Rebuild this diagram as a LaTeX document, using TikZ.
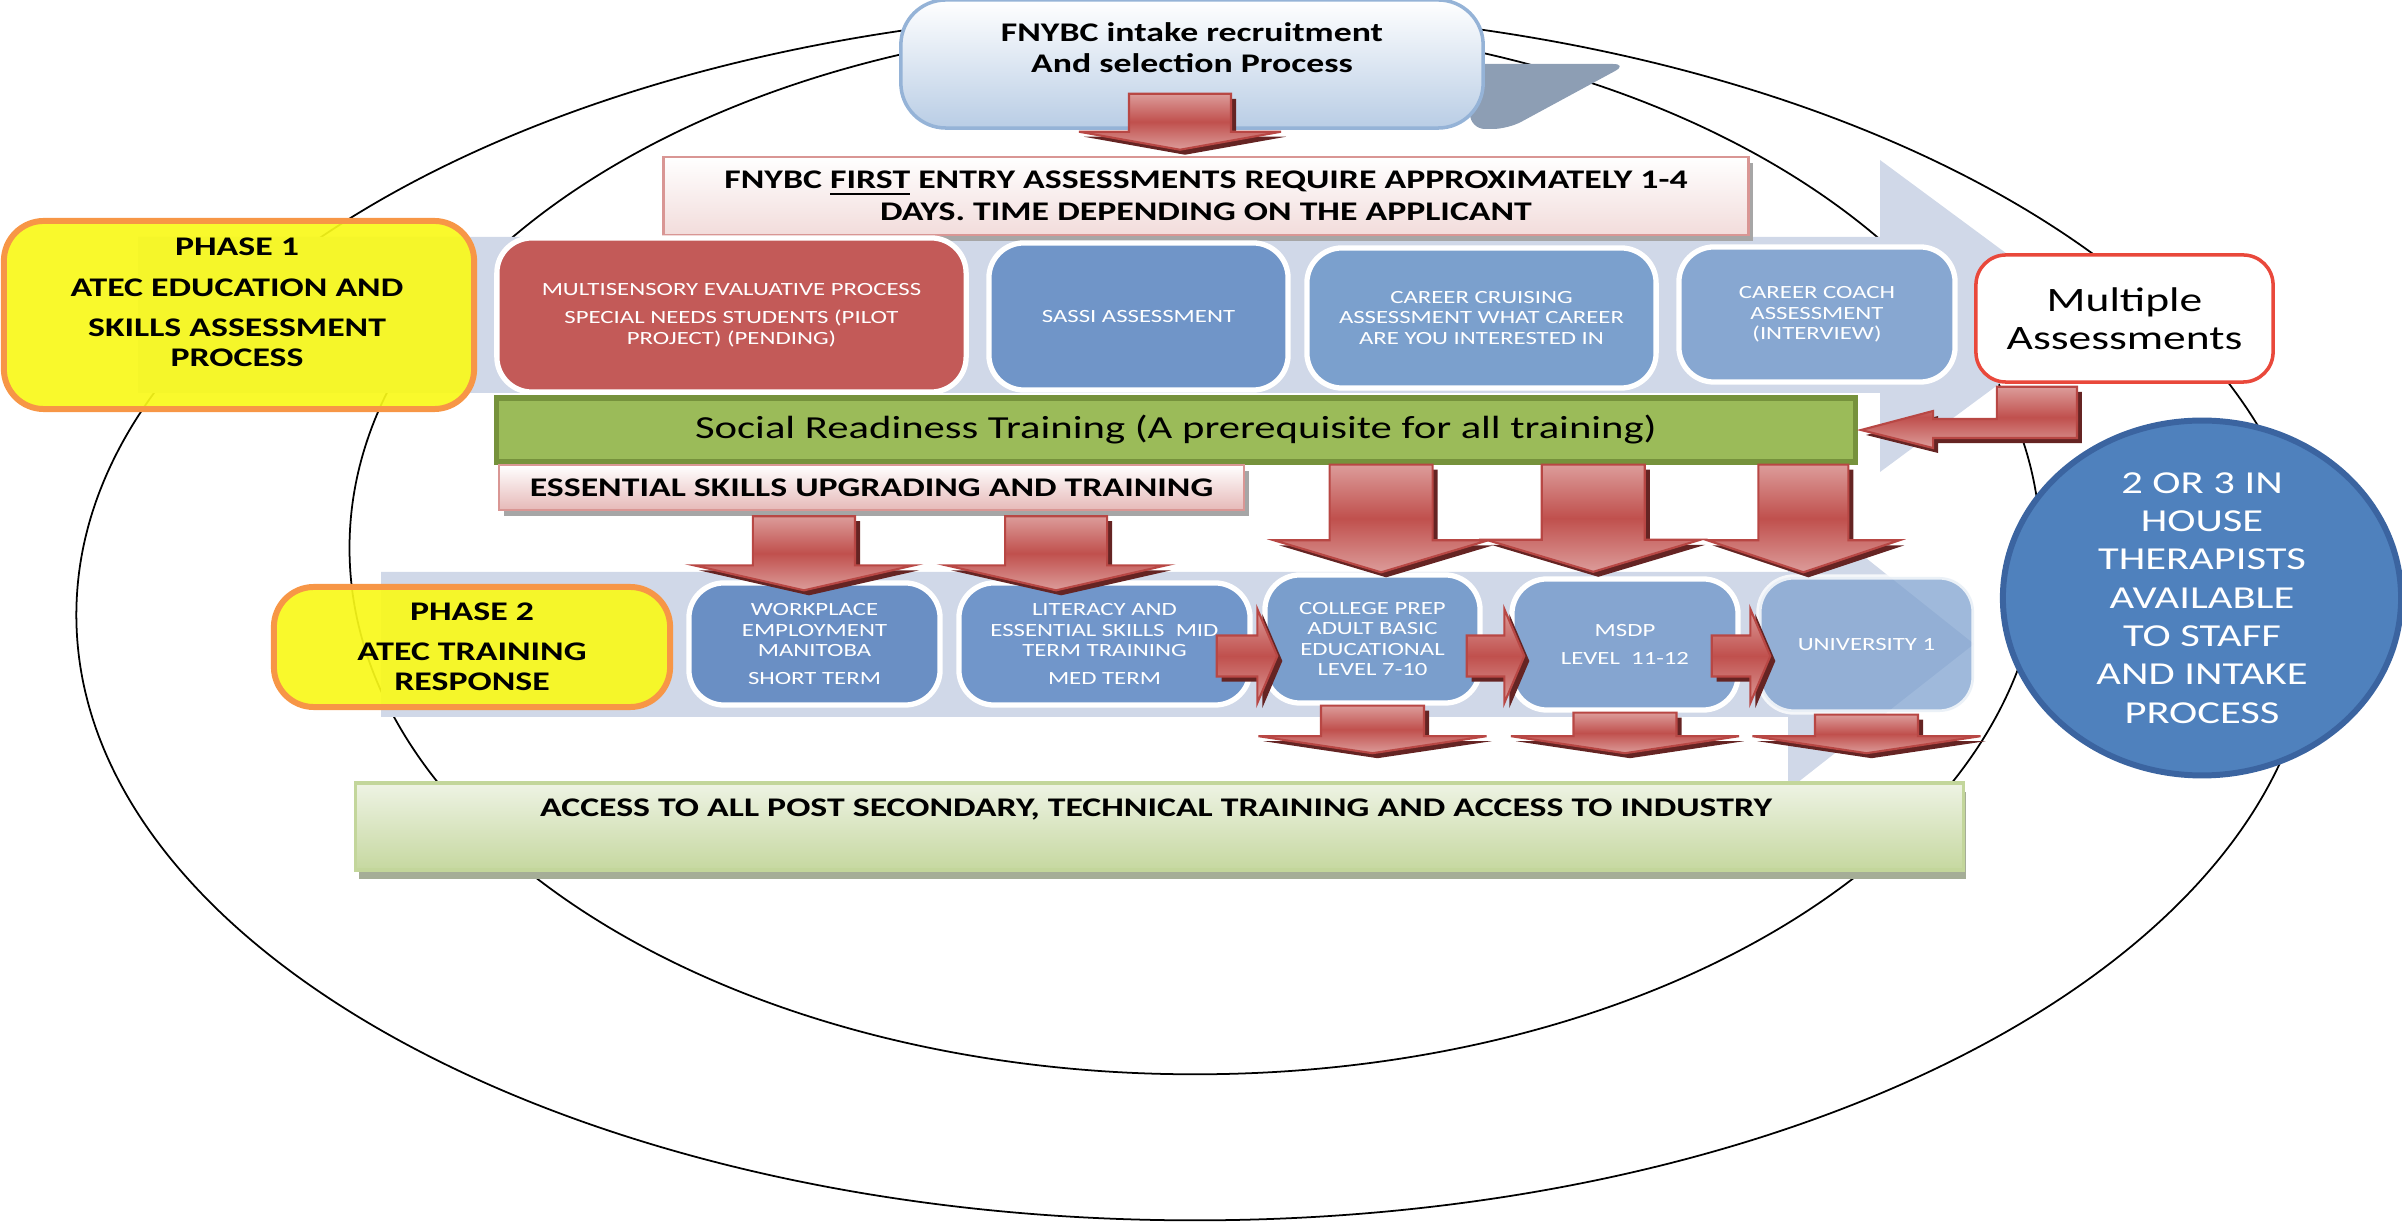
\documentclass[tikz,border=0pt]{standalone}
\usepackage{fontspec}
\setmainfont{Carlito}[FakeStretch=1.33]
\usetikzlibrary{arrows.meta,calc,shadows,shapes.geometric}
\definecolor{bandblue}{HTML}{D0D8E8}
\definecolor{introblue}{HTML}{B9CDE5}
\definecolor{introedge}{HTML}{95B3D7}
\definecolor{introshade}{HTML}{8D9EB4}
\definecolor{bannerpink}{HTML}{D99694}
\definecolor{bannerlow}{HTML}{F2DCDB}
\definecolor{skillslow}{HTML}{E6B9B8}
\definecolor{phaseyellow}{HTML}{F9F91A}
\definecolor{phaseorange}{HTML}{F79646}
\definecolor{redbox}{HTML}{C35A58}
\definecolor{sassiblue}{HTML}{7095C8}
\definecolor{cruiseblue}{HTML}{7BA0CD}
\definecolor{coachblue}{HTML}{87A7D1}
\definecolor{workblue}{HTML}{6A8FC4}
\definecolor{literblue}{HTML}{7196CA}
\definecolor{collegeblue}{HTML}{7A9ECC}
\definecolor{msdpblue}{HTML}{85A5D0}
\definecolor{univblue}{HTML}{7FA2CF}
\definecolor{traingreen}{HTML}{9BBB59}
\definecolor{trainedge}{HTML}{76923C}
\definecolor{noteedge}{HTML}{E9483B}
\definecolor{staffblue}{HTML}{4F81BD}
\definecolor{staffedge}{HTML}{3B64A0}
\definecolor{accesstop}{HTML}{EEF3E4}
\definecolor{accesslow}{HTML}{C6D8A0}
\definecolor{accessedge}{HTML}{C3D69B}
\definecolor{accessshade}{HTML}{A5AD97}
\definecolor{arrowred}{HTML}{C0504D}
\definecolor{arrowpink}{HTML}{DC9C9A}
\definecolor{arrowdark}{HTML}{652423}
\definecolor{arrowedge}{HTML}{B84744}
\tikzset{
    >=Stealth,
    down arrow/.style n args={3}{to path={let \p1=(\tikztostart),\p2=(\tikztotarget) in
        (\x1-#1,\y1) -- (\x1+#1,\y1) -- (\x1+#1,\y2+#3) -- (\x1+#2,\y2+#3) -- (\x1,\y2) -- (\x1-#2,\y2+#3) -- (\x1-#1,\y2+#3) -- cycle}},
    right arrow/.style n args={3}{to path={let \p1=(\tikztostart),\p2=(\tikztotarget) in
        (\x1,\y1-#1) -- (\x2-#3,\y1-#1) -- (\x2-#3,\y1-#2) -- (\x2,\y1) -- (\x2-#3,\y1+#2) -- (\x2-#3,\y1+#1) -- (\x1,\y1+#1) -- cycle}},
    return arrow/.style={to path={let \p1=(\tikztostart),\p2=(\tikztotarget) in
        (\x1-0.8cm,\y1) -- (\x1,\y1) -- (\x1,\y2-0.08cm) -- (\x2+0.72cm,\y2-0.08cm) -- (\x2+0.72cm,\y2-0.18cm) -- (\x2,\y2) -- (\x2+0.72cm,\y2+0.19cm) -- (\x2+0.72cm,\y2+0.11cm) -- (\x1-0.8cm,\y2+0.11cm) -- cycle}},
    flow/.style={
        ring/.append style={draw=black,line width=0.5pt},
        band/.append style={fill=bandblue},
        intro/.append style={draw=introedge,line width=1pt,rounded corners=0.45cm,top color=white,bottom color=introblue,minimum width=5.82cm,minimum height=1.28cm},
        introtext/.append style={align=center,font=\bfseries\fontsize{7.65}{8.8}\selectfont},
        banner/.append style={draw=bannerpink,line width=0.7pt,top color=white,align=center,inner sep=0pt,font=\bfseries\fontsize{7.65}{9.1}\selectfont,drop shadow={shadow xshift=0.05cm,shadow yshift=-0.06cm,fill=black!35,opacity=1}},
        phasebox/.append style={draw=phaseorange,line width=1.7pt,fill=phaseyellow,fill opacity=0.92,text opacity=1,rounded corners=0.4cm,align=center},
        phasetext/.append style={align=center,font=\bfseries\fontsize{7.65}{8.3}\selectfont},
        assess/.append style={draw=white,line width=1.5pt,rounded corners=0.35cm,align=center,text=white,inner sep=0pt,font=\fontsize{5.3}{5.8}\selectfont},
        train/.append style={draw=trainedge,line width=1.5pt,fill=traingreen,minimum width=13.58cm,minimum height=0.64cm,font=\fontsize{9.13}{11}\selectfont},
        note/.append style={draw=noteedge,line width=1pt,fill=white,rounded corners=0.3cm,minimum width=2.97cm,minimum height=1.27cm,align=center,font=\fontsize{9.73}{10.8}\selectfont},
        therapist/.append style={ellipse,draw=staffedge,line width=1.7pt,fill=staffblue,minimum width=3.98cm,minimum height=2.92cm,inner sep=0pt,align=center,text=white,font=\fontsize{9.1}{10.9}\selectfont},
        access/.append style={draw=accessedge,line width=1pt,top color=accesstop,bottom color=accesslow,minimum width=16.07cm,minimum height=0.87cm,drop shadow={shadow xshift=0.03cm,shadow yshift=-0.09cm,fill=accessshade,opacity=1}},
        redarrow/.append style={draw=arrowedge,line width=0.6pt,top color=arrowpink,bottom color=arrowpink,middle color=arrowred,drop shadow={shadow xshift=0.05cm,shadow yshift=-0.05cm,fill=arrowdark,opacity=1}}
    }
}

\begin{document}
\begin{tikzpicture}[flow,x=0.01cm,y=-0.01cm]
    \useasboundingbox (0,0) rectangle (2402,1222);
    \draw[ring] (1195,615) ellipse [x radius=11.18cm,y radius=6.05cm];
    \draw[ring] (1195,548) ellipse [x radius=8.45cm,y radius=5.26cm];
    \fill[band] (138,237) -- (1880,237) -- (1880,160) -- (2091,316) -- (1880,472) -- (1880,393) -- (138,393) -- cycle;
    \fill[band] (381,572) -- (1788,572) -- (1788,496) -- (1974,644) -- (1788,790) -- (1788,717) -- (381,717) -- cycle;
    \fill[introshade,rounded corners=0.15cm] (1470,64) -- (1628,64) -- (1508,129) -- (1470,129) -- cycle;
    \node[intro] (intake) at (1192,64) {};
    \node[introtext] (intaketext) at (1192,48) {FNYBC intake recruitment\\And selection Process};
    \node[banner,bottom color=bannerlow,minimum width=10.84cm,minimum height=0.78cm] (entry) at (1206,196) {FNYBC \underline{FIRST} ENTRY ASSESSMENTS REQUIRE APPROXIMATELY 1-4\\DAYS. TIME DEPENDING ON THE APPLICANT};
    \node[phasebox,minimum width=4.7cm,minimum height=1.88cm] (phaseone) at (239,315) {};
    \node[phasetext] (phaseonetext) at (237,302) {PHASE 1\\[3.3pt]ATEC EDUCATION AND\\[3.3pt]SKILLS ASSESSMENT\\PROCESS};
    \node[assess,fill=redbox,minimum width=4.69cm,minimum height=1.54cm] (multisense) at (731.5,315) {MULTISENSORY EVALUATIVE PROCESS\\[2.3pt]SPECIAL NEEDS STUDENTS (PILOT\\PROJECT) (PENDING)};
    \node[assess,fill=sassiblue,minimum width=2.99cm,minimum height=1.47cm] (sassi) at (1138.5,316.5) {SASSI ASSESSMENT};
    \node[assess,fill=cruiseblue,minimum width=3.49cm,minimum height=1.4cm] (cruise) at (1481.5,318) {CAREER CRUISING\\ASSESSMENT WHAT CAREER\\ARE YOU INTERESTED IN};
    \node[assess,fill=coachblue,minimum width=2.76cm,minimum height=1.35cm] (coach) at (1817,314.5) {CAREER COACH\\ASSESSMENT\\(INTERVIEW)};
    \node[note] (multiple) at (2124.5,318.5) {Multiple\\Assessments};
    \node[train] (social) at (1176,430) {Social Readiness Training (A prerequisite for all training)};
    \node[banner,bottom color=skillslow,minimum width=7.45cm,minimum height=0.45cm] (skills) at (871.5,487.5) {ESSENTIAL SKILLS UPGRADING AND TRAINING};
    \node[phasebox,phasetext,font=\bfseries\fontsize{7.65}{8.5}\selectfont,minimum width=3.96cm,minimum height=1.2cm] (phasetwo) at (472,647) {PHASE 2\\[2.8pt]ATEC TRAINING\\RESPONSE};
    \node[assess,fill=workblue,minimum width=2.51cm,minimum height=1.22cm] (workplace) at (814.5,644) {WORKPLACE\\EMPLOYMENT\\MANITOBA\\[2pt]SHORT TERM};
    \node[assess,fill=literblue,minimum width=2.91cm,minimum height=1.22cm] (literacy) at (1104.5,644) {LITERACY AND\\ESSENTIAL SKILLS\ \ MID\\TERM TRAINING\\[2pt]MED TERM};
    \node[assess,fill=collegeblue,minimum width=2.15cm,minimum height=1.28cm] (college) at (1372.5,639) {COLLEGE PREP\\ADULT BASIC\\EDUCATIONAL\\LEVEL 7-10};
    \node[assess,fill=msdpblue,minimum width=2.26cm,minimum height=1.31cm] (msdp) at (1625,644.5) {MSDP\\[2.2pt]LEVEL\ \ 11-12};
    \node[assess,fill=univblue,fill opacity=0.75,draw opacity=0.8,text opacity=1,minimum width=2.15cm,minimum height=1.35cm] (univ) at (1866.5,644.5) {UNIVERSITY 1};
    \node[access] (access) at (1159.5,826.5) {};
    \node[introtext] (accesstext) at (1156,809) {ACCESS TO ALL POST SECONDARY, TECHNICAL TRAINING AND ACCESS TO INDUSTRY};
    \node[therapist] (staff) at (2202,598) {2 OR 3 IN\\HOUSE\\THERAPISTS\\AVAILABLE\\TO STAFF\\AND INTAKE\\PROCESS};
    \path[redarrow,down arrow={0.51cm}{1.01cm}{0.18cm}] ([xshift=-0.12cm,yshift=0.36cm]intake.south) to ([yshift=0.06cm]entry.north);
    \path[redarrow,down arrow={0.51cm}{1.1cm}{0.25cm}] ([xshift=-0.675cm,yshift=-0.05cm]skills.south) to ([yshift=-0.1cm]workplace.north);
    \path[redarrow,down arrow={0.51cm}{1.1cm}{0.25cm}] ([xshift=1.845cm,yshift=-0.05cm]skills.south) to ([yshift=-0.1cm]literacy.north);
    \path[redarrow,down arrow={0.515cm}{1.07cm}{0.32cm}] ([xshift=2.05cm]social.south) to (college.north);
    \path[redarrow,down arrow={0.515cm}{1.07cm}{0.32cm}] ([xshift=4.17cm]social.south) to ([yshift=0.045cm]msdp.north);
    \path[redarrow,down arrow={0.45cm}{0.96cm}{0.32cm}] ([xshift=6.27cm]social.south) to ([yshift=0.02cm]univ.north);
    \foreach \n in {college,msdp,univ}
        \path[redarrow,down arrow={0.515cm}{1.14cm}{0.17cm}] (\n.south) to ([yshift=0.28cm]access.north);
    \path[redarrow,right arrow={0.205cm}{0.47cm}{0.2cm}] ([xshift=-0.36cm,yshift=-0.12cm]literacy.east) to ([xshift=0.15cm]college.west);
    \path[redarrow,right arrow={0.205cm}{0.47cm}{0.2cm}] ([xshift=-0.16cm,yshift=-0.17cm]college.east) to ([xshift=0.15cm]msdp.west);
    \path[redarrow,right arrow={0.205cm}{0.47cm}{0.2cm}] ([xshift=-0.29cm,yshift=-0.115cm]msdp.east) to ([xshift=0.14cm]univ.west);
    \path[redarrow,return arrow] ([xshift=-0.475cm,yshift=-0.03cm]multiple.south) to ([xshift=0.03cm]social.east);
\end{tikzpicture}
\end{document}
